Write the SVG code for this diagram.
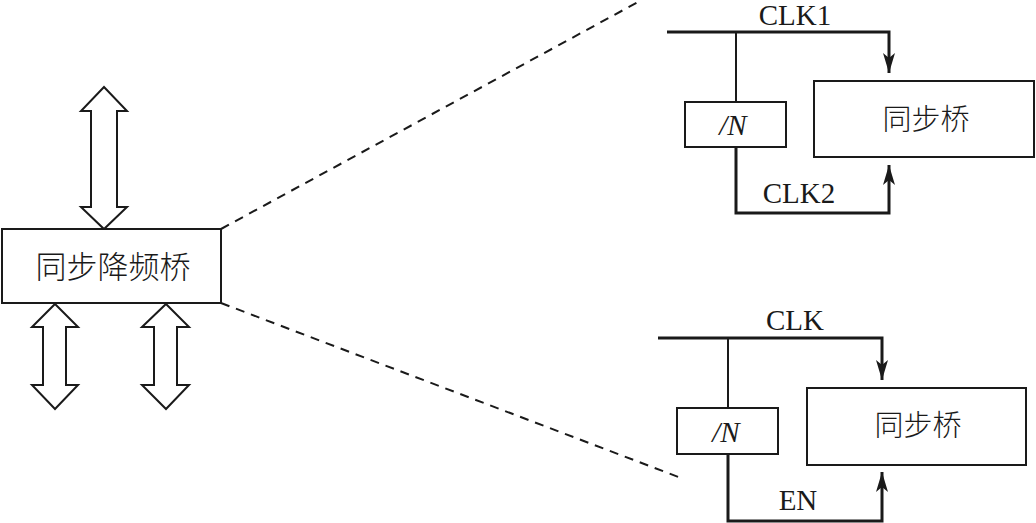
<svg xmlns="http://www.w3.org/2000/svg" width="1036" height="523" viewBox="0 0 1036 523">
<defs>
<marker id="ah" markerUnits="userSpaceOnUse" markerWidth="22" markerHeight="14" viewBox="-21 -7 22 14" refX="0" refY="0" orient="auto">
<path d="M0,0 L-20,-6 L-15,0 L-20,6 Z" fill="#1a1a1a"/>
</marker>
</defs>
<style>
.box{fill:#fff;stroke:#1a1a1a;stroke-width:2}
.dbl{fill:#fff;stroke:#1a1a1a;stroke-width:2;stroke-linejoin:miter}
.zh{font-family:"Noto Sans CJK SC","Noto Sans CJK JP",sans-serif;fill:#1a1a1a;text-anchor:middle;font-weight:300}
.en{font-family:"Liberation Serif",serif;fill:#1a1a1a;font-size:29px}
.bus{fill:none;stroke:#1a1a1a;stroke-width:3}
.br{fill:none;stroke:#1a1a1a;stroke-width:2}
.dash{fill:none;stroke:#1a1a1a;stroke-width:2;stroke-dasharray:9,7}
</style>
<rect width="1036" height="523" fill="#fff"/>

<g id="connectors">
<line class="dash" x1="221" y1="229" x2="638" y2="2"/>
<line class="dash" x1="221" y1="303" x2="681" y2="478"/>
<!-- top detail -->
<polyline class="bus" points="667,32 889,32 889,73" marker-end="url(#ah)"/>
<line class="br" x1="736" y1="32" x2="736" y2="102"/>
<polyline class="bus" points="736,147 736,213 889,213 889,165" marker-end="url(#ah)"/>
<!-- bottom detail -->
<polyline class="bus" points="658,338 882,338 882,380" marker-end="url(#ah)"/>
<line class="br" x1="728" y1="338" x2="728" y2="408"/>
<polyline class="bus" points="728,454 728,521 882,521 882,472" marker-end="url(#ah)"/>
</g>

<g id="arrow-top">
<polygon class="dbl" points="104,87 127,111 117,111 117,207 127,207 104,229 81,207 91,207 91,111 81,111"/>
</g>
<g id="arrow-bl">
<polygon class="dbl" points="55,304 78,327 66,327 66,385 78,385 55,409 32,385 43,385 43,327 32,327"/>
</g>
<g id="arrow-br">
<polygon class="dbl" points="166,304 189,327 177,327 177,385 189,385 166,409 142,385 154,385 154,327 142,327"/>
</g>

<g id="main-bridge">
<rect class="box" x="2" y="229" width="219" height="74"/>
<text class="zh" x="113" y="278" font-size="31">同步降频桥</text>
</g>

<g id="top-div">
<rect class="box" x="685" y="102" width="101" height="45"/>
<text class="en" x="733" y="135" text-anchor="middle" font-style="italic">/N</text>
</g>
<g id="top-sync">
<rect class="box" x="814" y="81" width="220" height="76"/>
<text class="zh" x="926" y="130" font-size="29">同步桥</text>
</g>
<text class="en" x="795" y="25" text-anchor="middle" font-size="28">CLK1</text>
<text class="en" x="799" y="203" text-anchor="middle">CLK2</text>

<g id="bot-div">
<rect class="box" x="677" y="408" width="101" height="46"/>
<text class="en" x="726" y="442" text-anchor="middle" font-style="italic">/N</text>
</g>
<g id="bot-sync">
<rect class="box" x="807" y="388" width="219" height="77"/>
<text class="zh" x="918" y="436" font-size="29">同步桥</text>
</g>
<text class="en" x="795" y="330" text-anchor="middle">CLK</text>
<text class="en" x="798" y="510" text-anchor="middle">EN</text>
</svg>
